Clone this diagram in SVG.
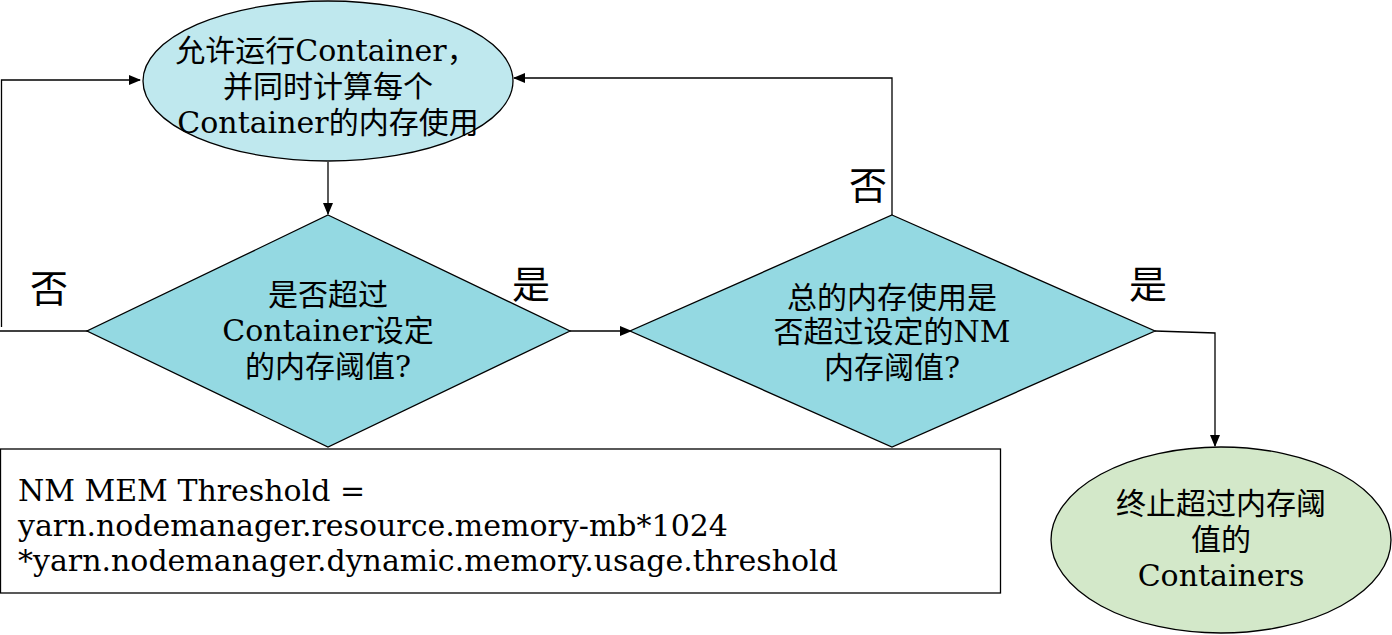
<svg xmlns="http://www.w3.org/2000/svg" width="1392" height="635" viewBox="0 0 1392 635">
<style>
text{font-family:"DejaVu Serif","Noto Sans CJK SC",serif;fill:#000;}
.t{font-size:30px;text-anchor:middle;}
.lbl{font-size:38px;text-anchor:middle;}
.box{font-size:30px;}
.edge{fill:none;stroke:#000;stroke-width:1.3;}
.shape{stroke:#000;stroke-width:1.3;}
</style>
<defs>
<marker id="arr" markerWidth="12" markerHeight="10" refX="11" refY="5" orient="auto" markerUnits="userSpaceOnUse">
<path d="M0,0 L12,5 L0,10 z" fill="#000"/>
</marker>
</defs>
<rect width="1392" height="635" fill="#fff"/>

<g id="connectors">
<polyline class="edge" points="1.5,327 1.5,80 140,80" marker-end="url(#arr)"/>
<line class="edge" x1="0" y1="331" x2="88" y2="331"/>
<line class="edge" x1="328" y1="162" x2="328" y2="214" marker-end="url(#arr)"/>
<line class="edge" x1="570" y1="331" x2="631" y2="331" marker-end="url(#arr)"/>
<polyline class="edge" points="892,215 892,78 514,78" marker-end="url(#arr)"/>
<polyline class="edge" points="1155,331 1215,333 1215,446" marker-end="url(#arr)"/>
</g>

<g id="start">
<ellipse class="shape" cx="328" cy="81" rx="185" ry="80" fill="#bfe8ee"/>
<text class="t" x="326" y="61">允许运行Container，</text>
<text class="t" x="328" y="97">并同时计算每个</text>
<text class="t" x="328" y="133">Container的内存使用</text>
</g>

<g id="check-container">
<polygon class="shape" points="328,215 570,331 328,447 87,331" fill="#94d9e2"/>
<text class="t" x="328" y="305">是否超过</text>
<text class="t" x="328" y="341">Container设定</text>
<text class="t" x="328" y="377">的内存阈值?</text>
</g>

<g id="check-nm">
<polygon class="shape" points="892,215 1155,331 892,447 630,331" fill="#94d9e2"/>
<text class="t" x="892" y="308">总的内存使用是</text>
<text class="t" x="892" y="342">否超过设定的NM</text>
<text class="t" x="892" y="378">内存阈值?</text>
</g>

<g id="kill">
<ellipse class="shape" cx="1221" cy="540" rx="170" ry="93" fill="#d3e8c9"/>
<text class="t" x="1221" y="514">终止超过内存阈</text>
<text class="t" x="1221" y="550">值的</text>
<text class="t" x="1221" y="586">Containers</text>
</g>

<g id="threshold-note">
<rect class="shape" x="0.5" y="449" width="1000" height="144" fill="#fff"/>
<text class="box" x="18" y="501">NM MEM Threshold =</text>
<text class="box" x="18" y="536">yarn.nodemanager.resource.memory-mb*1024</text>
<text class="box" x="18" y="571">*yarn.nodemanager.dynamic.memory.usage.threshold</text>
</g>

<g id="labels">
<text class="lbl" x="49" y="302">否</text>
<text class="lbl" x="531" y="298">是</text>
<text class="lbl" x="868" y="199">否</text>
<text class="lbl" x="1148" y="298">是</text>
</g>
</svg>
